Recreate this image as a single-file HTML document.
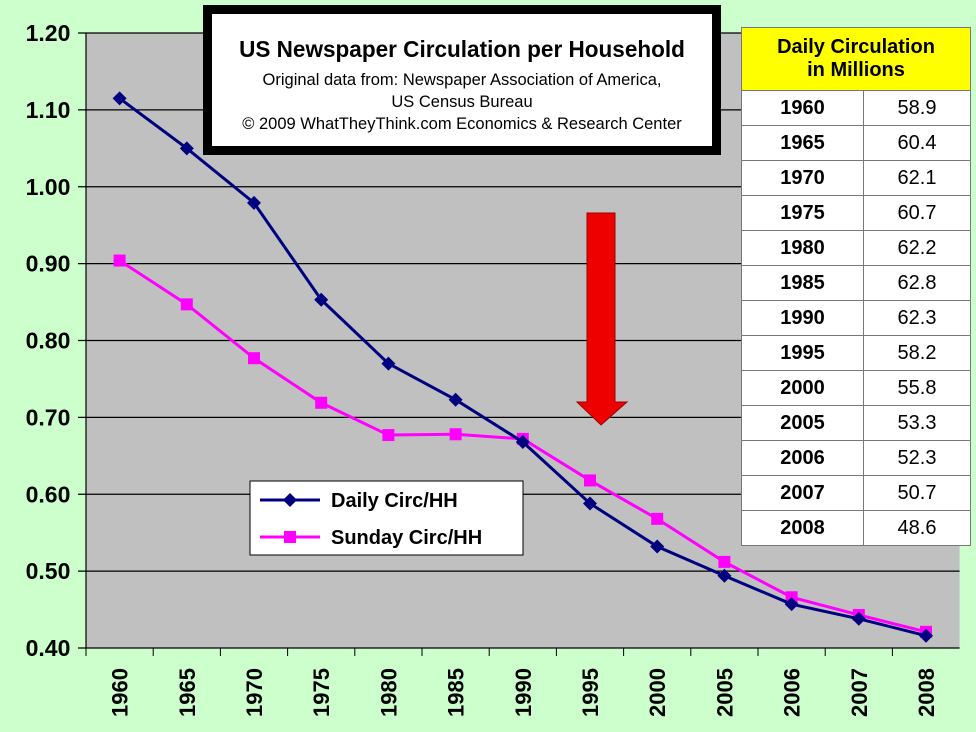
<!DOCTYPE html>
<html><head><meta charset="utf-8"><style>
html,body{margin:0;padding:0;}
body{width:976px;height:732px;background:#ccffcc;position:relative;overflow:hidden;font-family:"Liberation Sans",Arial,sans-serif;}
#title-box{position:absolute;left:203px;top:5px;width:500px;height:132px;border:9px solid #000;background:#fff;text-align:center;}
#tbl{position:absolute;left:741px;top:27px;width:230px;border-collapse:collapse;background:#fff;}
#tbl td{border:1px solid #777;height:34px;font-size:20px;text-align:center;padding:0;}
#tbl th{background:#ffff00;border:1px solid #777;height:60px;font-size:20px;font-weight:bold;line-height:23px;}
</style></head><body>
<svg id="chart" width="976" height="732" style="position:absolute;left:0;top:0"></svg>
<div id="title-box">
<div style="font-size:23px;font-weight:bold;margin-top:22px;transform:scaleX(0.98)">US Newspaper Circulation per Household</div>
<div style="font-size:16.5px;margin-top:6px;line-height:22px">Original data from: Newspaper Association of America,<br>US Census Bureau<br>© 2009 WhatTheyThink.com Economics &amp; Research Center</div>
</div>
<table id="tbl"><tbody id="tbody"><tr><th colspan="2">Daily Circulation<br>in Millions</th></tr></tbody></table>
<script>
const years=["1960","1965","1970","1975","1980","1985","1990","1995","2000","2005","2006","2007","2008"];
const daily=[1.115,1.05,0.979,0.853,0.770,0.723,0.668,0.588,0.532,0.494,0.457,0.438,0.416];
const sunday=[0.904,0.847,0.777,0.719,0.677,0.678,0.672,0.618,0.568,0.512,0.466,0.443,0.421];
const yTicks=[0.4,0.5,0.6,0.7,0.8,0.9,1.0,1.1,1.2];
const circ=["58.9","60.4","62.1","60.7","62.2","62.8","62.3","58.2","55.8","53.3","52.3","50.7","48.6"];
const NS="http://www.w3.org/2000/svg";
const svg=document.getElementById('chart');
const L=86,T=33,B=648,step=67.2,R=L+step*years.length;
const y=v=>B-(v-0.4)/0.8*(B-T);
const x=i=>L+step*(i+0.5);
function mk(tag,a){const e=document.createElementNS(NS,tag);for(const k in a)e.setAttribute(k,a[k]);svg.appendChild(e);return e;}
let e=mk('rect',{x:L,y:T,width:R-L,height:B-T,fill:'#c0c0c0'});


yTicks.forEach(v=>{
 let g=mk('line',{x1:L-8,x2:R,y1:y(v),y2:y(v),stroke:'#000','stroke-width':1.2});
 
 
 let t=mk('text',{x:48,y:y(v)+8,'text-anchor':'middle','font-size':23,'font-weight':'bold','font-family':'Liberation Sans, sans-serif'});
 t.textContent=v.toFixed(2);
 
 
});
mk('line',{x1:L,x2:L,y1:T,y2:B,stroke:'#000','stroke-width':1.2});
years.forEach((yr,i)=>{
 mk('line',{x1:L+step*i,x2:L+step*i,y1:B,y2:B+8,stroke:'#000'});
 let t=mk('text',{transform:`translate(${x(i)+8},${668}) rotate(-90)`,'text-anchor':'end','font-size':22,'font-weight':'bold','font-family':'Liberation Sans, sans-serif'});
 t.textContent=yr;
 
 
});
let ar=mk('polygon',{points:'587,213 615,213 615,402 627,402 601,425 577,402 587,402',fill:'#ee0000',stroke:'#990000','stroke-width':1});


let pl=mk('polyline',{points:sunday.map((v,i)=>x(i)+','+y(v)).join(' '),fill:'none',stroke:'#ff00ff','stroke-width':3});


sunday.forEach((v,i)=>{let m=mk('rect',{x:x(i)-6,y:y(v)-6,width:12,height:12,fill:'#ff00ff'});
 
 });
let dl=mk('polyline',{points:daily.map((v,i)=>x(i)+','+y(v)).join(' '),fill:'none',stroke:'#000080','stroke-width':3});


daily.forEach((v,i)=>{let m=mk('polygon',{points:`${x(i)},${y(v)-7} ${x(i)+7},${y(v)} ${x(i)},${y(v)+7} ${x(i)-7},${y(v)}`,fill:'#000080'});
 
 });
let lg=mk('rect',{x:250,y:481,width:273,height:74,fill:'#fff',stroke:'#000','stroke-width':1});


mk('line',{x1:260,x2:320,y1:500,y2:500,stroke:'#000080','stroke-width':3});
mk('polygon',{points:'290,493 297,500 290,507 283,500',fill:'#000080'});
mk('line',{x1:260,x2:320,y1:537,y2:537,stroke:'#ff00ff','stroke-width':3});
mk('rect',{x:284,y:531,width:12,height:12,fill:'#ff00ff'});
[["Daily Circ/HH",507],["Sunday Circ/HH",544]].forEach(([s,yy])=>{let t=mk('text',{x:331,y:yy,'font-size':20,'font-weight':'bold','font-family':'Liberation Sans, sans-serif'});t.textContent=s;
 
 });
const tb=document.getElementById('tbody');
years.forEach((yr,i)=>{const tr=document.createElement('tr');
 
 
 tr.innerHTML=`<td style="font-weight:bold;width:121px">${yr}</td><td>${circ[i]}</td>`;tb.appendChild(tr);});
</script>
</body></html>
